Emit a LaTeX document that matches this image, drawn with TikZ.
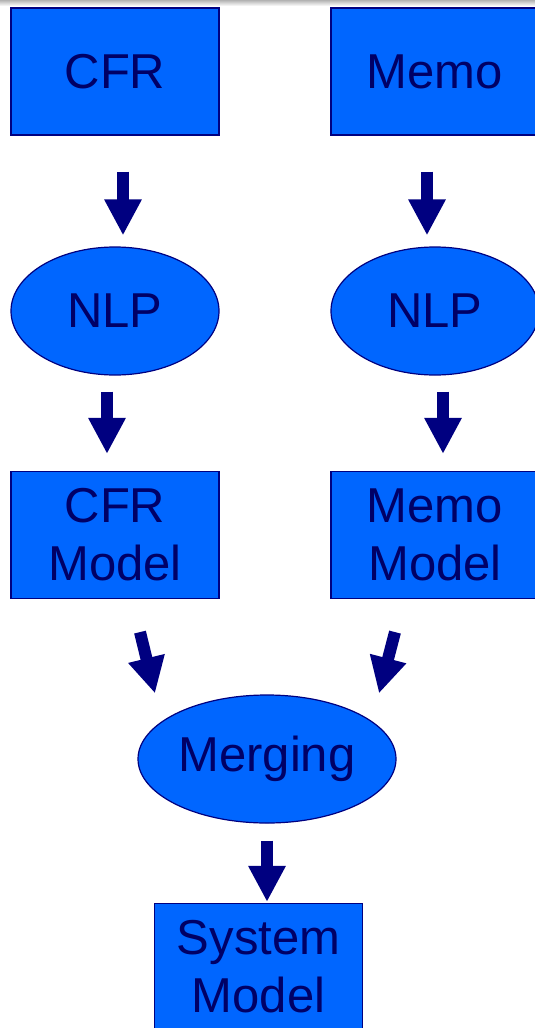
\documentclass[tikz,border=0pt]{standalone}
\usepackage{fontspec}
\setmainfont{Liberation Sans}
\usetikzlibrary{shapes.geometric,arrows.meta}
\definecolor{boxblue}{HTML}{0066FF}
\definecolor{navy}{HTML}{000080}
\definecolor{inkblue}{HTML}{000066}
\tikzset{
  stage/.style={draw=navy, line width=1.2pt, fill=boxblue, text=inkblue,
    font=\fontsize{49}{58}\selectfont, align=center, inner sep=0pt},
  box/.style={stage, rectangle, minimum width=208pt, minimum height=127pt},
  oval/.style={stage, ellipse, minimum width=208pt, minimum height=128pt},
  flow/.style={navy, line width=12pt, -{Triangle[width=35pt,length=36pt]}},
}
\begin{document}
\begin{tikzpicture}[x=1pt,y=-1pt]
  \useasboundingbox (0,0) rectangle (535,1028);
  \clip (0,0) rectangle (535,1028);
  \fill[white] (0,0) rectangle (535,1028);
  % soft grey strip along the upper edge
  \shade[top color=black!35, bottom color=white] (0,-1) rectangle (535,6);

  % sources
  \node[box] (cfr)  at (115,71.5) {CFR};
  \node[box] (memo) at (435,71.5) {Memo};
  % language processing
  \node[oval] (nlpL) at (115,311) {NLP};
  \node[oval] (nlpR) at (435,311) {NLP};
  % intermediate models
  \node[box] (cfrm)  at (115,535) {CFR\\Model};
  \node[box] (memom) at (435,535) {Memo\\Model};
  % merge step and result
  \node[oval, minimum width=258pt] (merge) at (267,759) {Merging};
  \node[box] (sysm) at (258.5,967) {System\\Model};

  % flow arrows
  \draw[flow, shorten <=36pt, shorten >=11pt]
    ([xshift=8pt]cfr.south) -- ([xshift=8pt]nlpL.north);
  \draw[flow, shorten <=36pt, shorten >=11pt]
    ([xshift=-8pt]memo.south) -- ([xshift=-8pt]nlpR.north);
  \draw[flow, shorten <=16pt, shorten >=17pt]
    ([xshift=-8pt]nlpL.south) -- ([xshift=-8pt]cfrm.north);
  \draw[flow, shorten <=16pt, shorten >=17pt]
    ([xshift=8pt]nlpR.south) -- ([xshift=8pt]memom.north);
  \draw[flow] ([shift={(25,33)}]cfrm.south) -- ([shift={(-112,-1)}]merge.north);
  \draw[flow] ([shift={(-40,33)}]memom.south) -- ([shift={(112,-1)}]merge.north);
  \draw[flow, shorten <=17pt, shorten >=1pt]
    (merge.south) -- ([xshift=8.5pt]sysm.north);
\end{tikzpicture}
\end{document}
